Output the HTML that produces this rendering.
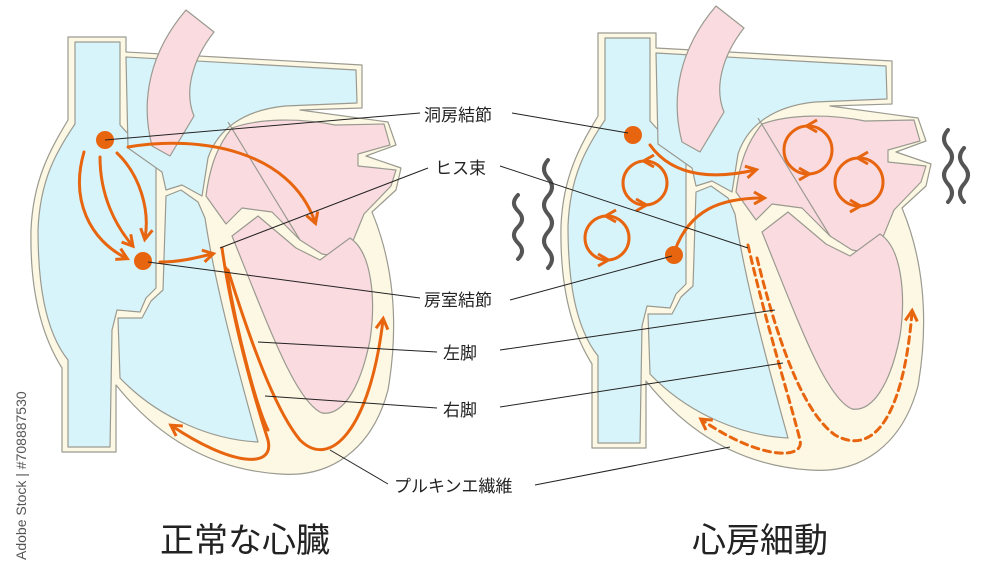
<!DOCTYPE html>
<html><head><meta charset="utf-8"><style>
html,body{margin:0;padding:0;background:#fff;}
svg{display:block;}
text{font-family:"Liberation Sans","Noto Sans CJK JP",sans-serif;fill:#222;}
</style></head><body>
<svg width="1000" height="563" viewBox="0 0 1000 563" xmlns="http://www.w3.org/2000/svg">
<defs>
<marker id="ah" viewBox="0 0 10 10" refX="7" refY="5" markerWidth="5" markerHeight="5" orient="auto-start-reverse">
<path d="M1,1 L8,5 L1,9" fill="none" stroke="#e8650f" stroke-width="2"/>
</marker>
<g id="heart" stroke="#9a9a90" stroke-width="1.2" stroke-linejoin="round">
<path fill="#fdf8e4" d="M68,37 L126,37 L126,52 L362,65 L362,108 L300,110 L388,122 L396,145 L366,156 L401,168 L396,190 L372,212 C392,260 400,320 388,390 C372,450 330,478 280,474 C215,470 160,440 116,385 L116,452 L62,452 L62,368 C38,330 30,280 31,230 C33,180 50,150 68,120 Z"/>
<path fill="#d8f4fb" d="M75,42 L120,42 L120,125 C138,145 150,155 156,168 L156,288 L146,298 L140,312 L117,310 L112,330 L110,447 L68,447 L68,360 C44,330 38,280 38,230 C40,180 56,152 75,124 Z"/>
<path fill="#d8f4fb" d="M126,57 L356,70 L357,103 L285,106 C245,110 218,128 208,158 L202,196 L182,185 L166,190 L162,172 L128,148 Z"/>
<path fill="#d8f4fb" d="M118,318 L142,318 L151,301 L163,290 L166,196 L181,190 L198,202 L205,218 C215,285 238,370 258,442 C215,440 160,420 120,378 Z"/>
<path fill="#fadbe0" d="M152,146 C140,100 150,52 186,10 L214,32 C192,60 184,92 194,116 L170,156 Z"/>
<path fill="#fadbe0" d="M232,128 C260,118 300,118 335,125 L384,124 L390,145 L358,154 L358,166 L396,170 L391,186 L364,214 L346,258 L322,254 L300,240 L272,212 L242,208 L226,224 L206,196 C210,165 218,145 232,128 Z"/>
<path fill="#fadbe0" d="M232,236 L258,216 L296,248 L320,260 L350,238 C372,252 376,300 370,340 C360,390 342,416 322,413 C296,402 270,330 232,236 Z"/>
<path fill="none" d="M228,122 L262,178 L300,240"/>
</g>
</defs>

<use href="#heart"/>
<use href="#heart" transform="translate(530,-4)"/>

<g fill="none" stroke="#e8650f" stroke-width="3" stroke-linecap="round">
<path d="M128,147 C200,135 290,150 315,222" marker-end="url(#ah)"/>
<path d="M84,152 C70,200 90,240 126,258" marker-end="url(#ah)"/>
<path d="M100,157 C100,195 115,225 132,245" marker-end="url(#ah)"/>
<path d="M117,153 C140,175 150,210 145,238" marker-end="url(#ah)"/>
<path d="M160,262 C180,262 195,258 212,254" marker-end="url(#ah)"/>
<path d="M222,248 C232,320 255,400 268,440 C275,470 230,465 172,426" marker-end="url(#ah)"/>
<path d="M226,268 C238,340 258,410 268,430"/>
<path d="M228,270 C250,340 275,410 300,440 C330,470 370,430 383,320" marker-end="url(#ah)"/>
</g>
<circle cx="105" cy="140" r="9" fill="#e8650f"/>
<circle cx="143" cy="261" r="9" fill="#e8650f"/>

<g fill="none" stroke="#e8650f" stroke-width="3" stroke-linecap="round">
<path d="M650,145 C675,180 720,178 755,170" marker-end="url(#ah)"/>
<path d="M675,250 C690,210 720,198 763,198" marker-end="url(#ah)"/>
<!-- circles with arrows: top pointing left, bottom pointing right -->
<path d="M667,183 A22,22 0 0 0 645,161" marker-end="url(#ah)"/><path d="M645,161 A22,22 0 0 0 623,183 A22,22 0 0 0 645,205" marker-end="url(#ah)"/><path d="M645,205 A22,22 0 0 0 667,183"/>
<path d="M629,238 A22,22 0 0 0 607,216" marker-end="url(#ah)"/><path d="M607,216 A22,22 0 0 0 585,238 A22,22 0 0 0 607,260" marker-end="url(#ah)"/><path d="M607,260 A22,22 0 0 0 629,238"/>
<path d="M832,150 A24,24 0 0 0 808,126" marker-end="url(#ah)"/><path d="M808,126 A24,24 0 0 0 784,150 A24,24 0 0 0 808,174" marker-end="url(#ah)"/><path d="M808,174 A24,24 0 0 0 832,150"/>
<path d="M883,182 A24,24 0 0 0 859,158" marker-end="url(#ah)"/><path d="M859,158 A24,24 0 0 0 835,182 A24,24 0 0 0 859,206" marker-end="url(#ah)"/><path d="M859,206 A24,24 0 0 0 883,182"/>
<g stroke-dasharray="7,5">
<path d="M748,245 C765,320 790,400 800,440 C805,460 760,460 702,420" marker-end="url(#ah)"/>
<path d="M757,258 C775,330 800,410 835,435 C880,460 905,400 912,312" marker-end="url(#ah)"/>
</g>
</g>
<circle cx="633" cy="135" r="9" fill="#e8650f"/>
<circle cx="674" cy="255" r="9" fill="#e8650f"/>

<g fill="none" stroke="#555" stroke-width="4" stroke-linecap="round">
<path d="M518,195 q-8,8 0,16 t0,16 t0,16 t0,16"/>
<path d="M548,160 q-8,9 0,18 t0,18 t0,18 t0,18 t0,18 t0,18"/>
<path d="M948,130 q-8,9 0,18 t0,18 t0,18 t0,18"/>
<path d="M964,148 q-8,9 0,18 t0,18 t0,18"/>
</g>

<g stroke="#222" stroke-width="1" fill="none">
<path d="M420,113 L105,140"/><path d="M512,113 L628,133"/>
<path d="M428,168 L220,248"/><path d="M500,166 L748,248"/>
<path d="M420,298 L148,262"/><path d="M510,300 L672,256"/>
<path d="M437,352 L258,342"/><path d="M500,350 L775,310"/>
<path d="M437,408 L265,396"/><path d="M500,407 L783,363"/>
<path d="M388,484 L330,450"/><path d="M535,485 L730,447"/>
</g>
<g font-size="17">
<text x="424" y="121">洞房結節</text>
<text x="435" y="174">ヒス束</text>
<text x="424" y="306">房室結節</text>
<text x="443" y="359">左脚</text>
<text x="443" y="416">右脚</text>
<text x="394" y="492">プルキンエ繊維</text>
</g>
<text x="245" y="552" font-size="34" text-anchor="middle">正常な心臓</text>
<text x="760" y="552" font-size="34" text-anchor="middle">心房細動</text>
<text transform="translate(26,560) rotate(-90)" font-size="14" style="fill:#555">Adobe Stock | #708887530</text>
</svg>
</body></html>
